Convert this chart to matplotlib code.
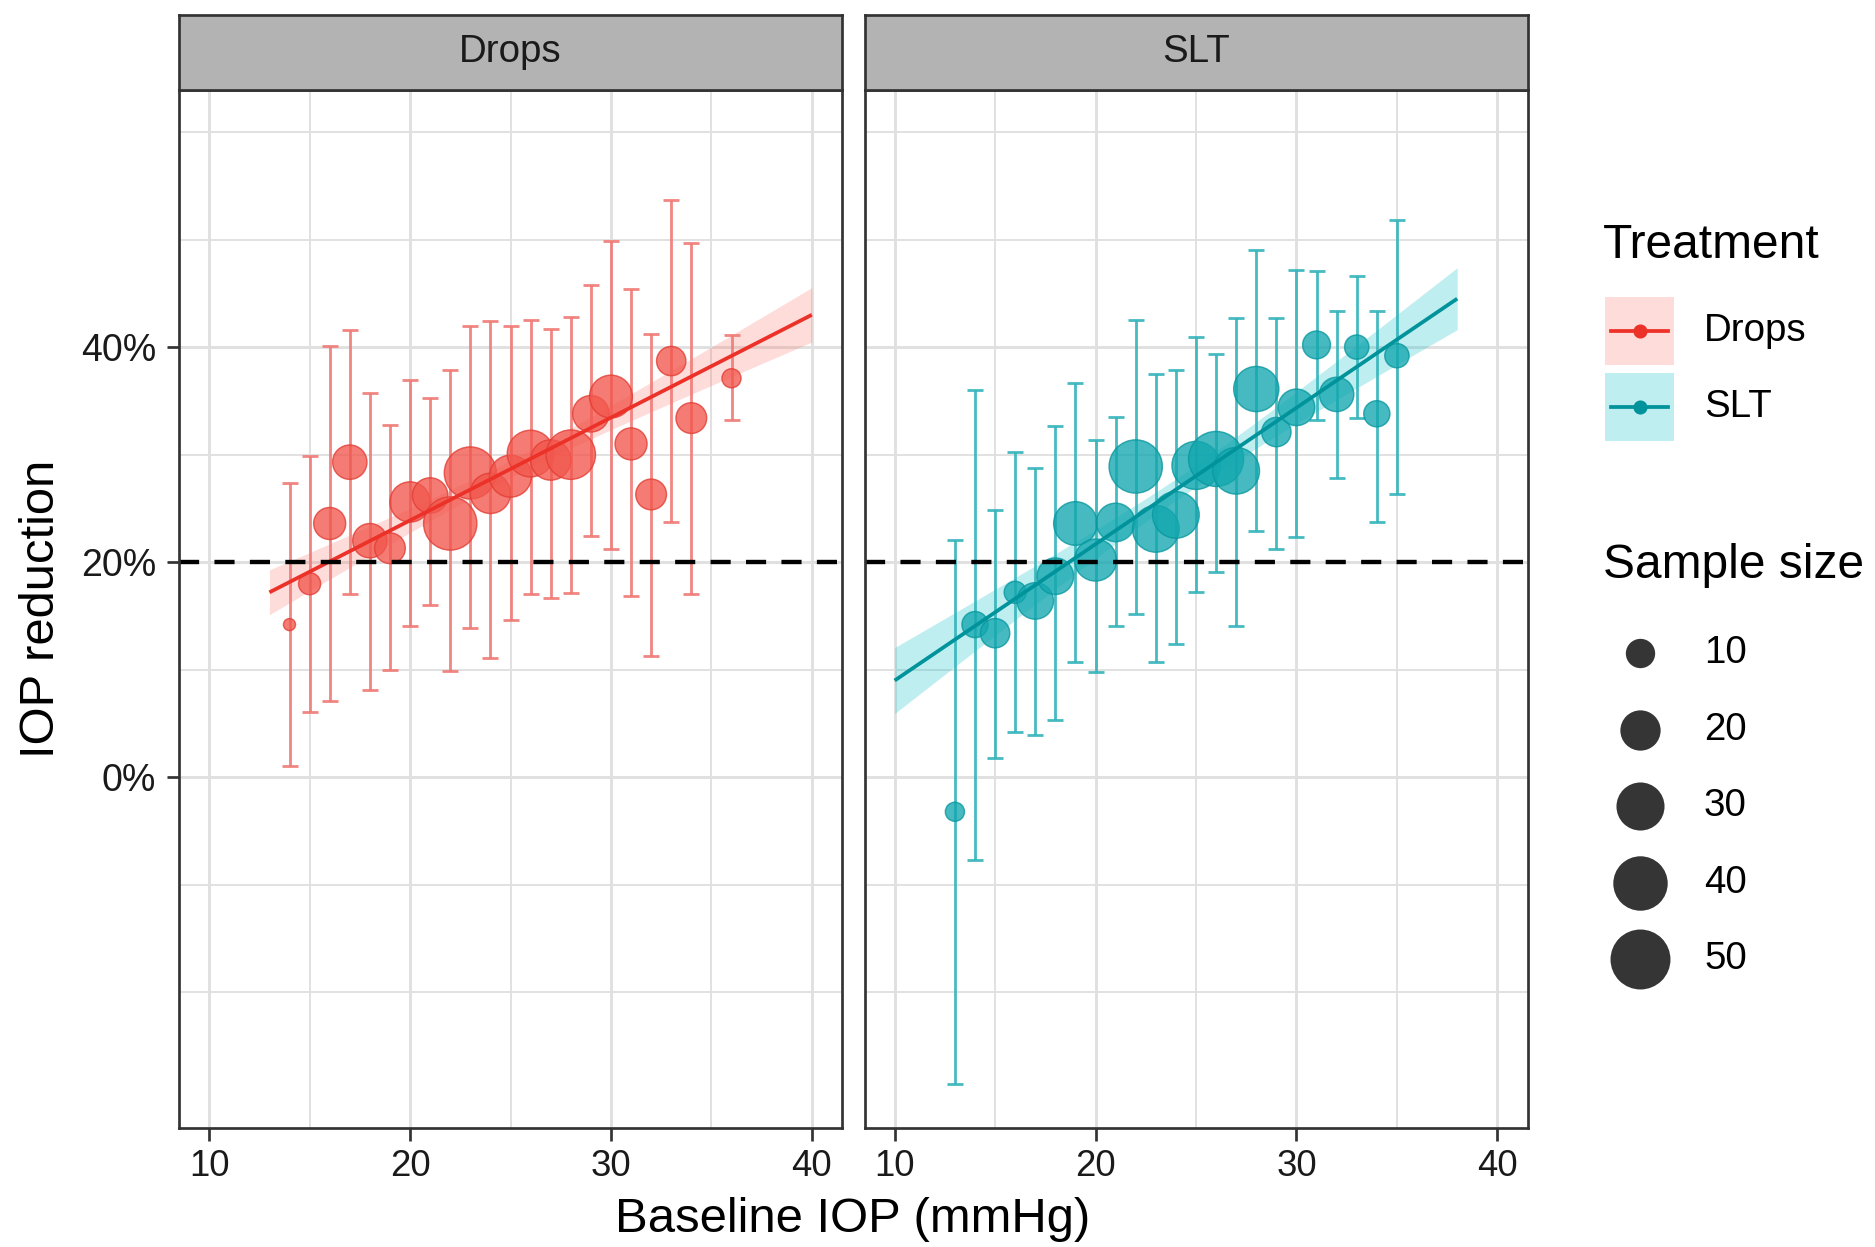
import numpy as np
import matplotlib
matplotlib.use('Agg')
import matplotlib.pyplot as plt

plt.rcParams['font.family'] = ['Liberation Sans', 'DejaVu Sans']

# ---------------- data ----------------
drops_iop = [14, 15, 16, 17, 18, 19, 20, 21, 22, 23, 24, 25, 26, 27, 28, 29, 30, 31, 32, 33, 34, 36]
drops_red = [14.2, 18.0, 23.6, 29.3, 22.0, 21.3, 25.6, 26.2, 23.6, 28.3, 26.4, 28.0, 30.1, 29.5, 30.0, 33.8, 35.4, 31.0, 26.3, 38.7, 33.4, 37.1]
drops_lo = [1.1, 6.1, 7.1, 17.0, 8.1, 10.0, 14.1, 16.0, 9.9, 13.9, 11.1, 14.6, 17.0, 16.7, 17.1, 22.4, 21.2, 16.9, 11.3, 23.7, 17.0, 33.2]
drops_hi = [27.4, 29.9, 40.1, 41.6, 35.7, 32.8, 36.9, 35.3, 37.9, 42.0, 42.4, 42.0, 42.5, 41.7, 42.8, 45.8, 49.9, 45.4, 41.2, 53.7, 49.7, 41.1]
drops_n = [4, 6, 12, 14, 14, 11, 20, 15, 38, 36, 20, 22, 28, 20, 32, 16, 23, 12, 11, 10, 11, 5]

slt_iop = [13, 14, 15, 16, 17, 18, 19, 20, 21, 22, 23, 24, 25, 26, 27, 28, 29, 30, 31, 32, 33, 34, 35]
slt_red = [-3.2, 14.2, 13.4, 17.2, 16.4, 18.7, 23.6, 20.2, 23.7, 28.9, 23.1, 24.4, 29.0, 29.6, 28.5, 36.1, 32.1, 34.4, 40.2, 35.6, 40.0, 33.8, 39.2]
slt_lo = [-28.5, -7.7, 1.8, 4.2, 3.9, 5.3, 10.7, 9.8, 14.1, 15.2, 10.7, 12.4, 17.2, 19.1, 14.1, 22.9, 21.2, 22.3, 33.2, 27.8, 33.4, 23.7, 26.3]
slt_hi = [22.1, 36.0, 24.9, 30.2, 28.8, 32.7, 36.7, 31.4, 33.5, 42.5, 37.5, 37.9, 40.9, 39.4, 42.7, 49.0, 42.7, 47.2, 47.1, 43.4, 46.6, 43.4, 51.8]
slt_n = [5, 8, 10, 6, 16, 16, 24, 22, 18, 38, 28, 28, 30, 41, 28, 26, 10, 16, 9, 14, 7, 8, 7]

# fitted regression lines (end points) and confidence band shape
drops_fit_x = [13.0, 40.0]
drops_fit_y = [17.2, 43.0]
drops_ci = dict(center=25.0, minw=0.8, slope=0.16)
slt_fit_x = [10.0, 38.0]
slt_fit_y = [9.0, 44.5]
slt_ci = dict(center=24.5, minw=1.0, slope=0.20)

hline_y = 20
x_ticks = [10, 20, 30, 40]
y_ticks = [0, 20, 40]
y_ticklabels = ['0%', '20%', '40%']
legend_sizes = [10, 20, 30, 40, 50]
treatments = ['Drops', 'SLT']

# ---------------- style ----------------
W, H, DPI = 1875, 1247, 150
C = {
    'Drops': dict(pt='#F2574D', edge='#E23C33', err='#F07A76', line='#EC3128', ribbon='#F8766D'),
    'SLT': dict(pt='#12A7AF', edge='#08979F', err='#34B4BB', line='#00939B', ribbon='#00BFC4'),
}
GRID = '#E0E0E0'
DARK = '#333333'


def size_of(n):
    d_px = 12 + 50 * np.sqrt((np.asarray(n, float) - 4) / 50.0)
    return (d_px * 72.0 / DPI) ** 2


fig = plt.figure(figsize=(W / DPI, H / DPI), dpi=DPI)
fig.patch.set_facecolor('white')

ybot, ytop = 1128, 90
panels = [(179, treatments[0]), (864.5, treatments[1])]
pw = 663
data = {
    'Drops': (drops_iop, drops_red, drops_lo, drops_hi, drops_n, drops_fit_x, drops_fit_y, drops_ci),
    'SLT': (slt_iop, slt_red, slt_lo, slt_hi, slt_n, slt_fit_x, slt_fit_y, slt_ci),
}

for i, (left, name) in enumerate(panels):
    ax = fig.add_axes([left / W, 1 - ybot / H, pw / W, (ybot - ytop) / H])
    ax.set_xlim(8.5, 41.5)
    ax.set_ylim(-32.6, 63.9)
    # grid (ggplot-like major + minor)
    for gx in [15, 25, 35]:
        ax.axvline(gx, color=GRID, lw=0.9, zorder=0)
    for gx in x_ticks:
        ax.axvline(gx, color=GRID, lw=1.4, zorder=0)
    for gy in [-20, -10, 10, 30, 50, 60]:
        ax.axhline(gy, color=GRID, lw=0.9, zorder=0)
    for gy in y_ticks:
        ax.axhline(gy, color=GRID, lw=1.4, zorder=0)

    xs_, ys_, lo_, hi_, n_, fx, fy, ci = data[name]
    xs_ = np.array(xs_, float); ys_ = np.array(ys_, float)
    lo_ = np.array(lo_, float); hi_ = np.array(hi_, float)
    col = C[name]

    # regression ribbon
    xx = np.linspace(fx[0], fx[1], 200)
    cc = fy[0] + (fy[1] - fy[0]) * (xx - fx[0]) / (fx[1] - fx[0])
    hw = np.sqrt(ci['minw'] ** 2 + (ci['slope'] * (xx - ci['center'])) ** 2)
    ax.fill_between(xx, cc - hw, cc + hw, color=col['ribbon'], alpha=0.25, lw=0, zorder=1)

    # error bars
    ax.errorbar(xs_, ys_, yerr=[ys_ - lo_, hi_ - ys_], fmt='none', ecolor=col['err'],
                elinewidth=1.35, capsize=3.8, capthick=1.35, alpha=0.9, zorder=2)
    # points
    ax.scatter(xs_, ys_, s=size_of(n_), color=col['pt'], alpha=0.78,
               edgecolors=col['edge'], linewidths=0.7, zorder=3)
    # fitted line
    ax.plot(fx, fy, color=col['line'], lw=1.8, zorder=4, solid_capstyle='butt')
    # 20% reference
    ax.axhline(hline_y, color='black', lw=2.1, ls=(0, (4.6, 3.5)), zorder=6)

    ax.set_xticks(x_ticks)
    ax.set_xticklabels([str(t) for t in x_ticks], fontsize=17.5, color='#1a1a1a')
    ax.tick_params(axis='x', length=6, width=1.3, color=DARK, pad=4)
    if i == 0:
        ax.set_yticks(y_ticks)
        ax.set_yticklabels(y_ticklabels, fontsize=18, color='#1a1a1a')
        ax.tick_params(axis='y', length=6, width=1.3, color=DARK, pad=5)
    else:
        ax.set_yticks([])
    for sp in ax.spines.values():
        sp.set_color(DARK)
        sp.set_linewidth(1.3)
        sp.set_zorder(10)

    # strip
    sax = fig.add_axes([left / W, 1 - ytop / H, pw / W, 75 / H])
    sax.set_facecolor('#B3B3B3')
    sax.set_xticks([]); sax.set_yticks([])
    for sp in sax.spines.values():
        sp.set_color(DARK)
        sp.set_linewidth(1.3)
    sax.text(0.5, 0.5, name, ha='center', va='center', fontsize=18.5, color='#1a1a1a',
             transform=sax.transAxes)

# axis titles
fig.text(853 / W, 1 - 1220 / H, 'Baseline IOP (mmHg)', ha='center', va='center', fontsize=23.5)
fig.text(42 / W, 1 - 609 / H, 'IOP reduction', ha='center', va='center', fontsize=23.5, rotation=90)

# ---------------- legends (pixel-coordinate overlay) ----------------
lax = fig.add_axes([0, 0, 1, 1], zorder=20)
lax.set_xlim(0, W); lax.set_ylim(H, 0)
lax.axis('off')
lax.patch.set_alpha(0)

lax.text(1603, 245, 'Treatment', ha='left', va='center', fontsize=23)
for k, (name, cy) in enumerate(zip(treatments, [331, 407])):
    col = C[name]
    lax.add_patch(plt.Rectangle((1605, cy - 34), 69, 68, facecolor=col['ribbon'], alpha=0.25, lw=0))
    lax.plot([1611, 1668], [cy, cy], color=col['line'], lw=1.8)
    lax.scatter([1640], [cy], s=(12 * 72 / DPI) ** 2, color=col['line'], zorder=3)
    lax.text(1704, cy, name, ha='left', va='center', fontsize=18.5)

lax.text(1603, 565, 'Sample size', ha='left', va='center', fontsize=23)
for nval, cy in zip(legend_sizes, [653, 730, 806, 883, 959]):
    lax.scatter([1640], [cy], s=size_of(nval), color='#2a2a2a', alpha=0.95, lw=0)
    lax.text(1704, cy, str(nval), ha='left', va='center', fontsize=18.5)

fig.savefig('out.png', dpi=DPI, facecolor='white')
